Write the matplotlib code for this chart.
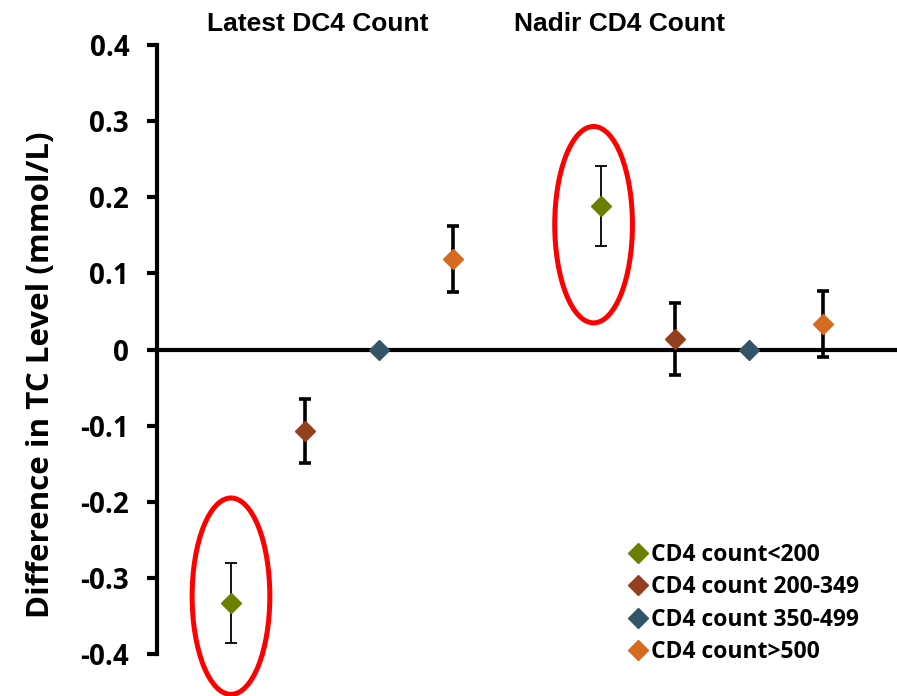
import matplotlib.pyplot as plt
import numpy as np
from matplotlib.patches import Ellipse
from matplotlib.lines import Line2D

# CD4 groups, each measured at the latest and the nadir count
groups = ["CD4 count<200", "CD4 count 200-349", "CD4 count 350-499", "CD4 count>500"]
latest_diff = [-0.333, -0.107, 0.0, 0.119]
latest_low = [-0.385, -0.149, 0.0, 0.076]
latest_high = [-0.281, -0.065, 0.0, 0.162]
nadir_diff = [0.188, 0.014, 0.0, 0.034]
nadir_low = [0.136, -0.034, 0.0, -0.010]
nadir_high = [0.241, 0.061, 0.0, 0.077]
panel_titles = ["Latest DC4 Count", "Nadir CD4 Count"]

colors = ["#6b7f00", "#94401f", "#335566", "#d56b1e"]
bar_widths = [1.3, 2.6, 2.6, 2.6]

fig = plt.figure(figsize=(8.97, 6.96), dpi=100)
ax = fig.add_axes([0.175, 0.0603, 0.825, 0.875])

xpos_latest = np.arange(1, 5)
xpos_nadir = np.arange(6, 10)

for i, g in enumerate(groups):
    for xs, vals, lo, hi in [(xpos_latest, latest_diff, latest_low, latest_high),
                             (xpos_nadir, nadir_diff, nadir_low, nadir_high)]:
        v = vals[i]
        if hi[i] != lo[i]:
            ax.errorbar(xs[i], v, yerr=[[v - lo[i]], [hi[i] - v]], fmt="none",
                        ecolor="black", elinewidth=bar_widths[i],
                        capsize=4.5, capthick=bar_widths[i], zorder=3)
        ax.plot(xs[i], v, marker="D", markersize=10.5, color=colors[i],
                linestyle="none", zorder=4)

# zero reference line
ax.axhline(0, color="black", linewidth=3, zorder=2)

# highlight the <200 group in both panels
for cx, cy in [(1.0, -0.324), (5.9, 0.164)]:
    ax.add_patch(Ellipse((cx, cy), 1.05, 0.258, fill=False, edgecolor="#ff0000",
                         linewidth=3.6, clip_on=False, zorder=5))

ax.set_xlim(0, 10)
ax.set_ylim(-0.4, 0.4)
ax.set_yticks(np.arange(-0.4, 0.41, 0.1))
ax.set_yticklabels(["%.1f" % t if abs(t) > 1e-9 else "0" for t in np.arange(-0.4, 0.41, 0.1)])
ax.set_xticks([])
for s in ["top", "right", "bottom"]:
    ax.spines[s].set_visible(False)
ax.spines["left"].set_linewidth(3)
ax.tick_params(axis="y", direction="out", length=7, width=3, pad=13)
for lbl in ax.get_yticklabels():
    lbl.set_fontfamily("Open Sans")
    lbl.set_fontweight("bold")
    lbl.set_fontsize(20)

fig.text(0.046, 0.461, "Difference in TC Level (mmol/L)", rotation=90,
         ha="center", va="center", fontsize=22.5, fontweight="bold", family="Open Sans")

for title, xc in zip(panel_titles, [0.3545, 0.691]):
    fig.text(xc, 0.966, title, ha="center", va="center", fontsize=19,
             fontweight="bold", family="Liberation Sans")

handles = [Line2D([], [], marker="D", color=c, linestyle="none", markersize=10.5)
           for c in colors]
leg = ax.legend(handles, groups, loc="lower left", bbox_to_anchor=(0.613, -0.05),
                frameon=False, handlelength=0.6, handletextpad=0.25,
                labelspacing=0.36, prop={"family": "Open Sans", "weight": "bold", "size": 16.5})

fig.savefig("out.png", dpi=100)
